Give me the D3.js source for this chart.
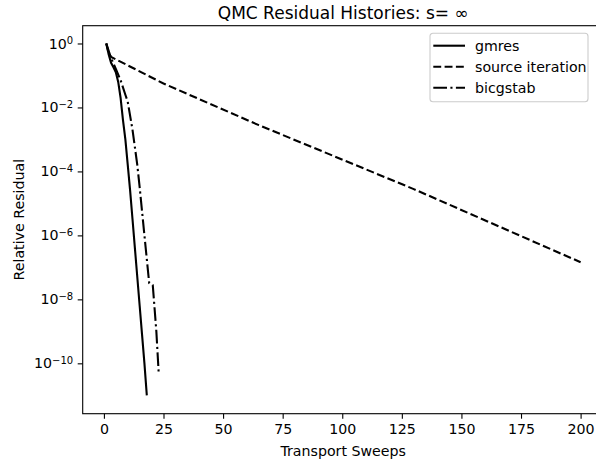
<!DOCTYPE html>
<html>
<head>
<meta charset="utf-8">
<script src="https://cdn.jsdelivr.net/npm/d3@7"></script>
<style>
  body { margin: 0; background: #fff; }
  svg { display: block; font-family: "DejaVu Sans", sans-serif; }
</style>
</head>
<body>
<svg width="596" height="464"></svg>
<script>
// values
var gmresX = [1, 2, 3, 4, 5, 6, 7, 8, 9, 10, 11, 12, 13, 14, 15, 16, 17, 18];
var gmresY = [1, 0.45, 0.25, 0.18, 0.126, 0.063, 0.02, 4e-3, 1e-3, 1.6e-4, 2.5e-5, 3.2e-6, 4e-7, 5e-8, 6.3e-9, 7.9e-10, 1e-10, 1e-11];

var sourceX = [1, 2, 3, 5, 25, 65, 130, 200];
var sourceY = [1, 0.5, 0.38, 0.32, 0.056, 2.8e-3, 2.8e-5, 1.45e-7];

var bicgX = [1, 3, 5, 7, 9, 10, 12, 14, 15, 17, 19, 20.5, 22, 23];
var bicgY = [1, 0.35, 0.16, 0.071, 0.025, 0.015, 2e-3, 1.6e-4, 3.2e-5, 1e-6, 3.2e-8, 2.8e-8, 1e-9, 4.7e-11];

var xTicks = [0, 25, 50, 75, 100, 125, 150, 175, 200];
var yTickExp = [0, -2, -4, -6, -8, -10];

var seriesNames = ["gmres", "source iteration", "bicgstab"];
var dashes = ["none", "7.9,3.4", "13.7,3.4,2.1,3.4"];

var svg = d3.select("svg"),
  width = +svg.attr("width"),
  height = +svg.attr("height");

// plot area edges (px) - right spine falls just outside the picture
var axL = 82.7, axR = 598, axT = 25.7, axB = 413.7;

var x = d3.scaleLinear().domain([-8.9, 207.3]).range([axL, axR]);
var y = d3.scaleLog().domain([Math.pow(10, -11.575), Math.pow(10, 0.556)]).range([axB, axT]);

svg.append("defs").append("clipPath").attr("id", "clip")
  .append("rect").attr("x", axL).attr("y", axT)
  .attr("width", axR - axL).attr("height", axB - axT);

var line = d3.line()
  .x(function (d) { return x(d[0]); })
  .y(function (d) { return y(d[1]); });

var series = [
  d3.zip(gmresX, gmresY),
  d3.zip(sourceX, sourceY),
  d3.zip(bicgX, bicgY)
];

var plot = svg.append("g").attr("clip-path", "url(#clip)");
series.forEach(function (s, i) {
  plot.append("path")
    .datum(s)
    .attr("fill", "none")
    .attr("stroke", "#000")
    .attr("stroke-width", 2.1)
    .attr("stroke-dasharray", dashes[i])
    .attr("d", line);
});

// axes
var xAxis = svg.append("g")
  .attr("transform", "translate(0," + axB + ")")
  .call(d3.axisBottom(x).tickValues(xTicks).tickSize(5).tickPadding(5).tickSizeOuter(0));
xAxis.select(".domain").remove();
xAxis.selectAll("line").attr("stroke-width", 1.1);
xAxis.selectAll("text").attr("font-size", "14.2px").attr("font-family", "DejaVu Sans").attr("fill", "#000");

var yAxis = svg.append("g")
  .attr("transform", "translate(" + axL + ",0)")
  .call(d3.axisLeft(y).tickValues(yTickExp.map(function (e) { return Math.pow(10, e); }))
    .tickSize(5).tickPadding(5).tickSizeOuter(0).tickFormat(""));
yAxis.select(".domain").remove();
yAxis.selectAll("line").attr("stroke-width", 1.1);
yAxis.selectAll(".tick text").each(function (d) {
  var t = d3.select(this)
    .attr("font-size", "14.2px").attr("font-family", "DejaVu Sans").attr("fill", "#000")
    .attr("x", -9.5);
  var e = Math.round(Math.log10(d));
  t.text(null);
  t.append("tspan").text("10");
  t.append("tspan").attr("dy", "-0.45em").attr("font-size", "10px")
    .text(e < 0 ? "\u2212" + (-e) : String(e));
});

// spines
svg.append("rect")
  .attr("x", axL).attr("y", axT)
  .attr("width", axR - axL).attr("height", axB - axT)
  .attr("fill", "none").attr("stroke", "#000").attr("stroke-width", 1.1);

// labels
svg.append("text")
  .attr("x", (axL + 603.7) / 2).attr("y", 19)
  .attr("text-anchor", "middle").attr("font-size", "17px")
  .text("QMC Residual Histories: s= \u221e");

svg.append("text")
  .attr("x", (axL + 603.7) / 2).attr("y", 456)
  .attr("text-anchor", "middle").attr("font-size", "14.2px")
  .text("Transport Sweeps");

svg.append("text")
  .attr("transform", "translate(24," + (axT + axB) / 2 + ") rotate(-90)")
  .attr("text-anchor", "middle").attr("font-size", "14.2px")
  .text("Relative Residual");

// legend
var lg = svg.append("g").attr("transform", "translate(430,33.3)");
lg.append("rect")
  .attr("width", 158).attr("height", 68.4).attr("rx", 3)
  .attr("fill", "#fff").attr("fill-opacity", 0.8)
  .attr("stroke", "#ccc").attr("stroke-width", 1.1);
seriesNames.forEach(function (name, i) {
  var ry = 12.4 + i * 21;
  lg.append("line")
    .attr("x1", 3.3).attr("x2", 35).attr("y1", ry).attr("y2", ry)
    .attr("stroke", "#000").attr("stroke-width", 2.1)
    .attr("stroke-dasharray", dashes[i]);
  lg.append("text")
    .attr("x", 45).attr("y", ry).attr("dy", "0.35em")
    .attr("font-size", "14.2px")
    .text(name);
});
</script>
</body>
</html>
